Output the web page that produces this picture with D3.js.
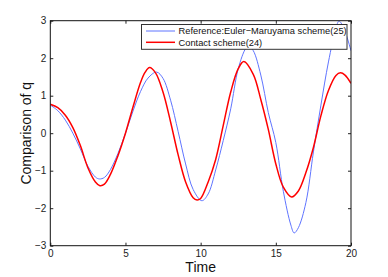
<!DOCTYPE html>
<html><head><meta charset="utf-8">
<script src="https://cdn.jsdelivr.net/npm/d3@7"></script>
<style>body{margin:0;background:#fff}svg{display:block}text{font-family:"Liberation Sans",Arial,sans-serif}</style>
</head><body>
<script>
const tRef = [0,0.5,1,1.5,2,2.5,3,3.27,3.6,4,4.5,5,5.5,6,6.5,7.07,7.5,8,8.5,9,9.5,10.08,10.5,11,11.5,12,12.5,13,13.2,13.5,14,14.5,15,15.5,16,16.22,16.5,17,17.5,18,18.5,19,19.2,19.5,20];
const qRef = [0.75,0.6,0.35,0.0,-0.42,-0.88,-1.17,-1.22,-1.18,-0.97,-0.54,0.0,0.59,1.11,1.47,1.63,1.46,0.88,0.05,-0.82,-1.5,-1.80,-1.62,-0.98,-0.2,0.65,1.72,2.26,2.32,2.2,1.55,0.55,-0.25,-1.55,-2.45,-2.66,-2.52,-1.85,-0.5,0.75,1.9,2.8,2.99,2.82,2.2];
const tCon = [0,0.5,1,1.5,2,2.5,3,3.3,3.6,4,4.5,5,5.5,6,6.3,6.6,7,7.5,8,8.5,9,9.5,9.76,10,10.5,11,11.5,12,12.5,12.87,13.5,14,14.5,15,15.5,16.05,16.5,17,17.5,18,18.5,19,19.3,19.6,20];
const qCon = [0.77,0.68,0.48,0.15,-0.33,-0.92,-1.3,-1.40,-1.36,-1.1,-0.6,0.0,0.7,1.35,1.62,1.75,1.61,1.09,0.3,-0.57,-1.3,-1.72,-1.78,-1.74,-1.3,-0.7,0.2,1.1,1.72,1.91,1.57,0.9,0.1,-0.82,-1.44,-1.70,-1.54,-1.05,-0.38,0.47,1.14,1.54,1.61,1.55,1.33];
const xTicks = [0,5,10,15,20];
const yTicks = [-3,-2,-1,0,1,2,3];
const seriesNames = ["Reference:Euler\u2212Maruyama scheme(25)","Contact scheme(24)"];
const seriesColors = ["#5f74ff","#ff0000"];

const W=388,H=277;
const L=50.3,R=351,T=20.7,B=245.7;
const svg=d3.select("body").append("svg").attr("width",W).attr("height",H);
const x=d3.scaleLinear().domain([0,20]).range([L,R]);
const y=d3.scaleLinear().domain([-3,3]).range([B,T]);
const fmt=d=>String(d).replace("-","\u2212");

svg.append("defs").append("clipPath").attr("id","clip").append("rect").attr("x",L).attr("y",T).attr("width",R-L).attr("height",B-T);

const axB=d3.axisBottom(x).tickValues(xTicks).tickSizeInner(-3).tickSizeOuter(0).tickPadding(4).tickFormat(fmt);
const axL=d3.axisLeft(y).tickValues(yTicks).tickSizeInner(-3).tickSizeOuter(0).tickPadding(4).tickFormat(fmt);
const axT=d3.axisTop(x).tickValues(xTicks).tickSizeInner(-3).tickSizeOuter(0).tickFormat("");
const axR=d3.axisRight(y).tickValues(yTicks).tickSizeInner(-3).tickSizeOuter(0).tickFormat("");
function style(g){g.select(".domain").remove();g.selectAll("line").attr("stroke","#222");g.selectAll("text").attr("font-size",10).attr("fill","#222").attr("font-family","'Liberation Sans',Arial,sans-serif");}
svg.append("g").attr("transform",`translate(0,${B})`).call(axB).call(style);
svg.append("g").attr("transform",`translate(${L},0)`).call(axL).call(style);
svg.append("g").attr("transform",`translate(0,${T})`).call(axT).call(style);
svg.append("g").attr("transform",`translate(${R},0)`).call(axR).call(style);

const line=d3.line().curve(d3.curveCatmullRom.alpha(0.5));
const g=svg.append("g").attr("clip-path","url(#clip)");
g.append("path").attr("d",line(tRef.map((t,i)=>[x(t),y(qRef[i])]))).attr("fill","none").attr("stroke",seriesColors[0]).attr("stroke-width",1);
g.append("path").attr("d",line(tCon.map((t,i)=>[x(t),y(qCon[i])]))).attr("fill","none").attr("stroke",seriesColors[1]).attr("stroke-width",1.5);

svg.append("rect").attr("x",L).attr("y",T).attr("width",R-L).attr("height",B-T).attr("fill","none").attr("stroke","#111").attr("stroke-width",1);

const lg=svg.append("g");
lg.append("rect").attr("x",141.5).attr("y",24.5).attr("width",205.5).attr("height",24.8).attr("fill","#fff").attr("stroke","#333").attr("stroke-width",1);
seriesNames.forEach((n,i)=>{
  const yy=31+i*11.3;
  lg.append("line").attr("x1",146).attr("x2",175).attr("y1",yy).attr("y2",yy).attr("stroke",seriesColors[i]).attr("stroke-width",i?1.5:1);
  lg.append("text").attr("x",178.5).attr("y",yy+3.4).attr("font-size",9.3).attr("fill","#111").text(n);
});

svg.append("text").attr("x",(L+R)/2).attr("y",272).attr("text-anchor","middle").attr("font-size",14).attr("fill","#111").text("Time");
svg.append("text").attr("transform",`translate(31,${(T+B)/2}) rotate(-90)`).attr("text-anchor","middle").attr("font-size",14).attr("fill","#111").text("Comparison of q");
</script>
</body></html>
